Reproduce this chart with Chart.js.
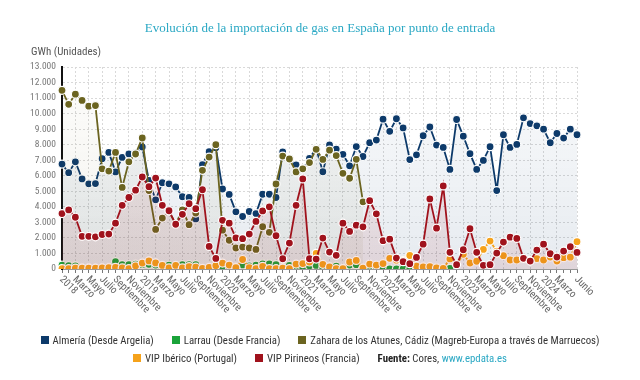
<!DOCTYPE html>
<html>
<head>
<meta charset="utf-8">
<script src="https://cdn.jsdelivr.net/npm/chart.js@4/dist/chart.umd.min.js"></script>
<style>
  html, body { margin: 0; padding: 0; background: #fff; }
  #wrap { position: relative; width: 640px; height: 380px; overflow: hidden; background: #fff; }
  #c { position: absolute; left: 0; top: 0; }
  #title { position: absolute; left: 0; width: 640px; top: 20px; text-align: center;
    font-family: "Liberation Serif", "DejaVu Serif", serif; font-size: 13px; color: #2aa8c4; }
  #unit { position: absolute; left: 31px; top: 45px;
    font-family: "Liberation Sans Narrow", "Roboto Condensed", Roboto, sans-serif; font-size: 11px; color: #555; }
  #legend { position: absolute; left: 0; width: 640px; top: 331px;
    font-family: "Liberation Sans Narrow", "Roboto Condensed", Roboto, sans-serif; font-size: 10.8px; color: #333; }
  .row { display: flex; justify-content: center; align-items: center; height: 18px; white-space: nowrap; }
  .item { display: flex; align-items: center; margin: 0 9px; }
  .sw { width: 8px; height: 8px; margin-right: 4px; display: inline-block; }
  .src b { color: #222; }
  .src a { color: #2aa8c4; text-decoration: none; }
</style>
</head>
<body>
<div id="wrap">
  <canvas id="c" width="640" height="380"></canvas>
  <div id="title">Evolución de la importación de gas en España por punto de entrada</div>
  <div id="unit">GWh (Unidades)</div>
  <div id="legend"></div>
</div>
<script>
// ---- Data (GWh), monthly Jan 2018 – Jun 2024 ----
const categories = [
  "ene 2018","feb 2018","mar 2018","abr 2018","may 2018","jun 2018","jul 2018","ago 2018","sep 2018","oct 2018","nov 2018","dic 2018",
  "ene 2019","feb 2019","mar 2019","abr 2019","may 2019","jun 2019","jul 2019","ago 2019","sep 2019","oct 2019","nov 2019","dic 2019",
  "ene 2020","feb 2020","mar 2020","abr 2020","may 2020","jun 2020","jul 2020","ago 2020","sep 2020","oct 2020","nov 2020","dic 2020",
  "ene 2021","feb 2021","mar 2021","abr 2021","may 2021","jun 2021","jul 2021","ago 2021","sep 2021","oct 2021","nov 2021","dic 2021",
  "ene 2022","feb 2022","mar 2022","abr 2022","may 2022","jun 2022","jul 2022","ago 2022","sep 2022","oct 2022","nov 2022","dic 2022",
  "ene 2023","feb 2023","mar 2023","abr 2023","may 2023","jun 2023","jul 2023","ago 2023","sep 2023","oct 2023","nov 2023","dic 2023",
  "ene 2024","feb 2024","mar 2024","abr 2024","may 2024","jun 2024"
];
const tickLabels = [
  "2018","","Marzo","","Mayo","","Julio","","Septiembre","","Noviembre","",
  "2019","","Marzo","","Mayo","","Julio","","Septiembre","","Noviembre","",
  "2020","","Marzo","","Mayo","","Julio","","Septiembre","","Noviembre","",
  "2021","","Marzo","","Mayo","","Julio","","Septiembre","","Noviembre","",
  "2022","","Marzo","","Mayo","","Julio","","Septiembre","","Noviembre","",
  "2023","","Marzo","","Mayo","","Julio","","Septiembre","","Noviembre","",
  "2024","","Marzo","","","Junio"
];
const yTicks = [0,1000,2000,3000,4000,5000,6000,7000,8000,9000,10000,11000,12000,13000];

const almeria = [
  6750,6200,6900,5800,5480,5500,7100,7500,6250,7180,7400,7450,
  7850,5700,4450,5550,5480,5280,4650,4600,3220,6720,7550,7800,
  5150,4800,3680,3380,3700,3570,4810,4810,4600,7530,7100,6700,
  6440,7120,7750,6260,7980,7720,7380,6640,7880,7240,8130,8300,
  9640,8860,9670,9080,7040,7350,8575,9140,7975,7825,6410,9620,
  8550,7420,6410,6990,7870,5050,8640,7825,8020,9730,9360,9215,
  9000,8125,8720,8425,9000,8640
];
const larrau = [
  250,220,200,60,70,40,60,110,480,280,280,320,
  280,300,250,200,240,220,280,280,280,10,30,60,
  100,150,120,260,200,250,330,330,280,70,230,60,
  100,200,230,80,150,180,60,250,280,40,20,30,
  20,10,0,0,0,0,0,0,0,0,40,null,
  null,null,null,null,null,null,null,null,null,null,null,null,
  null,null,null,null,null,null
];
const zahara = [
  11500,10600,11250,10850,10480,10520,6450,6300,7500,5250,6900,7400,
  8430,5050,2550,3280,3700,2900,3800,2850,3600,6350,7200,8000,
  2500,1850,1350,1410,1350,1260,2720,2360,5470,7270,7080,6250,
  6450,6850,7700,7050,7650,7300,6160,5840,7060,4320,null,null,
  null,null,null,null,null,null,null,null,null,null,null,null,
  null,null,null,null,null,null,null,null,null,null,null,null,
  null,null,null,null,null,null
];
const vipIberico = [
  30,20,60,60,60,50,70,80,110,70,30,200,
  380,520,390,230,70,230,70,150,120,40,110,210,
  380,250,90,610,80,30,170,20,20,60,30,320,
  350,450,1010,300,130,20,20,450,550,60,320,250,
  350,685,570,540,870,190,140,150,75,40,650,300,
  950,385,500,1260,1800,1150,860,578,578,680,560,670,
  578,770,510,730,760,1760
];
const vipPirineos = [
  3570,3800,3330,2100,2100,2070,2220,2245,2950,4100,4600,5070,
  5920,5300,5850,4100,3750,2880,3520,4200,3880,5100,1450,680,
  3130,2950,2000,1950,2250,3060,3740,4000,2140,660,1670,4100,
  5800,660,640,1990,1090,880,2950,2420,2820,2715,4400,3550,
  1820,1920,706,470,342,748,1600,4510,2630,5345,1070,278,
  1240,2590,1070,235,278,1026,1730,2050,1970,684,513,1220,
  1600,983,770,1155,1432,1069
];

const seriesNames = [
  "Almería (Desde Argelia)",
  "Larrau (Desde Francia)",
  "Zahara de los Atunes, Cádiz (Magreb-Europa a través de Marruecos)",
  "VIP Ibérico (Portugal)",
  "VIP Pirineos (Francia)"
];
const seriesColors = ["#0d3a6a", "#1aa33a", "#6b6420", "#f5a21b", "#a0121c"];
const seriesData = [almeria, larrau, zahara, vipIberico, vipPirineos];
const seriesFill = [
  ["rgba(13,58,106,0.02)", "rgba(13,58,106,0.10)"],
  null,
  ["rgba(107,100,32,0.02)", "rgba(107,100,32,0.07)"],
  null,
  ["rgba(160,18,28,0.05)", "rgba(160,18,28,0.10)"]
];

function fmt(v) { return String(v).replace(/\B(?=(\d{3})+(?!\d))/g, "."); }

const datasets = seriesData.map((d, k) => ({
  label: seriesNames[k],
  data: d,
  borderColor: seriesColors[k],
  backgroundColor: seriesFill[k] ? (ctx) => {
    const ca = ctx.chart.chartArea;
    if (!ca) return seriesFill[k][1];
    const g = ctx.chart.ctx.createLinearGradient(0, ca.top, 0, ca.bottom);
    g.addColorStop(0, seriesFill[k][0]);
    g.addColorStop(1, seriesFill[k][1]);
    return g;
  } : "transparent",
  fill: seriesFill[k] ? "origin" : false,
  pointBackgroundColor: seriesColors[k],
  pointBorderColor: "#ffffff",
  pointBorderWidth: 1.2,
  pointRadius: 4,
  borderWidth: 1.8,
  tension: 0,
  spanGaps: false,
  order: 5 - k
}));

const xLabelPlugin = {
  id: "xlabels",
  afterDraw(chart) {
    const { ctx, scales: { x }, chartArea } = chart;
    ctx.save();
    ctx.font = '10.5px "Liberation Sans Narrow", "Roboto Condensed", Roboto, sans-serif';
    ctx.fillStyle = "#666";
    ctx.textAlign = "left";
    ctx.textBaseline = "middle";
    tickLabels.forEach((t, i) => {
      if (!t) return;
      const px = x.getPixelForValue(i);
      ctx.save();
      ctx.translate(px - 1, chartArea.bottom + 9);
      ctx.rotate(Math.PI / 4);
      ctx.fillText(t, 0, 0);
      ctx.restore();
    });
    ctx.restore();
  }
};

new Chart(document.getElementById("c"), {
  type: "line",
  data: { labels: categories, datasets },
  plugins: [xLabelPlugin],
  options: {
    responsive: false,
    animation: false,
    devicePixelRatio: 1,
    layout: { padding: { top: 67, right: 63, bottom: 0, left: 0 } },
    plugins: { legend: { display: false }, title: { display: false }, tooltip: { enabled: false } },
    scales: {
      x: {
        type: "category",
        offset: false,
        afterFit: (s) => { s.height = 111; },
        ticks: { display: false, autoSkip: false },
        grid: {
          color: (c) => (c.index !== undefined && tickLabels[c.index]) ? "#d9d9d9" : "rgba(0,0,0,0)",
          lineWidth: 1,
          drawTicks: true,
          tickLength: 4,
          tickColor: "#777"
        },
        border: { display: true, color: "#999", width: 1, dash: [2, 2] }
      },
      y: {
        min: 0, max: 13000,
        afterFit: (s) => { s.width = 62; },
        afterBuildTicks: (s) => { s.ticks = yTicks.map(v => ({ value: v })); },
        ticks: {
          padding: 6,
          color: "#777",
          font: { family: '"Liberation Sans Narrow", "Roboto Condensed", Roboto, sans-serif', size: 9.5 },
          callback: (v) => fmt(v)
        },
        grid: { color: "#d9d9d9", lineWidth: 1, drawTicks: false },
        border: { display: true, color: "#111", width: 2, dash: [2, 2] }
      }
    }
  }
});

// HTML legend built from the series arrays
const legend = document.getElementById("legend");
const rows = [[0, 1, 2], [3, 4, "src"]];
rows.forEach(r => {
  const row = document.createElement("div");
  row.className = "row";
  r.forEach(k => {
    const it = document.createElement("div");
    it.className = "item";
    if (k === "src") {
      it.classList.add("src");
      it.innerHTML = '<b>Fuente:</b>&nbsp;Cores,&nbsp;<a>www.epdata.es</a>';
    } else {
      const sw = document.createElement("span");
      sw.className = "sw";
      sw.style.background = seriesColors[k];
      it.appendChild(sw);
      it.appendChild(document.createTextNode(seriesNames[k]));
    }
    row.appendChild(it);
  });
  legend.appendChild(row);
});
</script>
</body>
</html>
